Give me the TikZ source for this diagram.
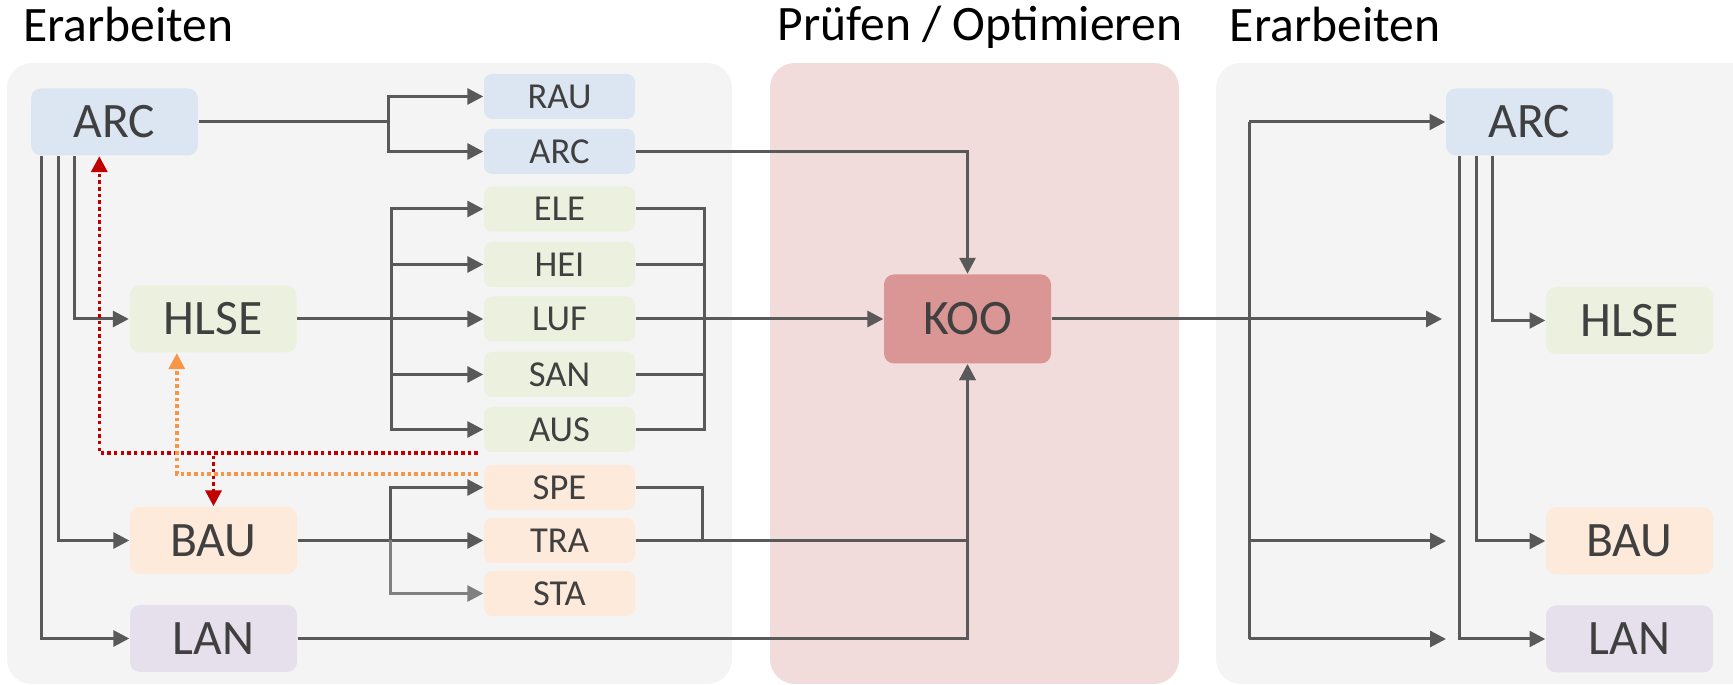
\documentclass[tikz,border=0pt]{standalone}
\usepackage{fontspec}
\setmainfont{Carlito}
\usetikzlibrary{arrows.meta}

\definecolor{panelgray}{HTML}{F4F4F4}
\definecolor{pinkpanel}{HTML}{F2DCDB}
\definecolor{koored}{HTML}{D99694}
\definecolor{arcblue}{HTML}{DCE6F2}
\definecolor{hlsegreen}{HTML}{EBF1DE}
\definecolor{bauorange}{HTML}{FDEADA}
\definecolor{lanviolet}{HTML}{E5E0EC}
\definecolor{linegray}{HTML}{595959}
\definecolor{stagray}{HTML}{808080}
\definecolor{textgray}{HTML}{404040}
\definecolor{dotred}{HTML}{C00000}
\definecolor{dotorange}{HTML}{F79646}

\begin{document}
\begin{tikzpicture}[
    title/.style={inner sep=0pt, anchor=base, font=\fontsize{14.1}{16}\selectfont},
    box/.style={rounded corners=0.1cm, minimum width=1.67cm, minimum height=0.67cm,
      inner sep=0pt, text=textgray, font=\fontsize{14.1}{16}\selectfont},
    sbox/.style={rounded corners=0.08cm, minimum width=1.51cm, minimum height=0.45cm,
      inner sep=0pt, text=textgray, font=\fontsize{10.4}{12}\selectfont},
    wire/.style={line width=0.85pt, draw=linegray},
    conn/.style={wire, -{Triangle[length=4.5pt, width=4.5pt]}},
    reddot/.style={line width=1pt, draw=dotred, dash pattern=on 1pt off 0.9pt,
      -{Triangle[length=4.5pt, width=4.5pt]}},
    orangedot/.style={line width=1pt, draw=dotorange, dash pattern=on 1pt off 0.9pt,
      -{Triangle[length=4.5pt, width=4.5pt]}}
  ]
  \useasboundingbox (0,0) rectangle (17.33,6.85);

  % panels
  \begin{scope}
    \clip (0,0) rectangle (17.33,6.85);
    \fill [panelgray, rounded corners=0.25cm] (0.07,0.01) rectangle (7.32,6.22);
    \fill [pinkpanel, rounded corners=0.25cm] (7.70,0.01) rectangle (11.79,6.22);
    \fill [panelgray, rounded corners=0.25cm] (12.16,0.01) rectangle (17.6,6.22);
  \end{scope}

  \node [title] (t1) at (1.285,6.43) {Erarbeiten};
  \node [title] (t2) at (9.80,6.44) {Prüfen / Optimieren};
  \node [title] (t3) at (13.35,6.43) {Erarbeiten};

  % left: main disciplines
  \node [box, fill=arcblue] (arcL) at (1.145,5.63) {ARC};
  \node [box, fill=hlsegreen] (hlseL) at (2.13,3.66) {HLSE};
  \node [box, fill=bauorange] (bauL) at (2.135,1.445) {BAU};
  \node [box, fill=lanviolet] (lanL) at (2.135,0.465) {LAN};

  % left: sub models
  \foreach \n/\t/\y/\c in {rau/RAU/5.885/arcblue, arcS/ARC/5.335/arcblue,
      ele/ELE/4.76/hlsegreen, hei/HEI/4.205/hlsegreen, luf/LUF/3.66/hlsegreen,
      san/SAN/3.105/hlsegreen, aus/AUS/2.555/hlsegreen,
      spe/SPE/1.975/bauorange, tra/TRA/1.445/bauorange, sta/STA/0.915/bauorange}
    \node [sbox, fill=\c] (\n) at (5.595,\y) {\t};

  % middle
  \node [box, fill=koored, minimum height=0.89cm] (koo) at (9.675,3.66) {KOO};

  % right
  \node [box, fill=arcblue] (arcR) at (15.295,5.63) {ARC};
  \node [box, fill=hlsegreen] (hlseR) at (16.295,3.645) {HLSE};
  \node [box, fill=bauorange] (bauR) at (16.295,1.44) {BAU};
  \node [box, fill=lanviolet] (lanR) at (16.295,0.46) {LAN};

  \coordinate (fa) at (3.88,5.63);
  \coordinate (fh) at (3.91,3.66);
  \coordinate (fb) at (3.90,1.445);
  \coordinate (mg) at (7.04,3.66);
  \coordinate (sm) at (7.02,1.445);
  \coordinate (bt) at (12.49,5.63);
  \coordinate (bb) at (12.49,0.46);
  \coordinate (eh) at (14.42,3.66);
  \coordinate (eb) at (14.46,1.44);
  \coordinate (el) at (14.46,0.46);
  \coordinate (rd) at (4.78,2.32);
  \coordinate (od) at (4.78,2.11);

  % ARC -> sub models and disciplines
  \draw [wire] (arcL.east) -- (fa);
  \draw [conn] (fa) |- (rau.west);
  \draw [conn] (fa) |- (arcS.west);
  \draw [conn] ([xshift=0.11cm]arcL.south west) |- (lanL.west);
  \draw [conn] ([xshift=0.28cm]arcL.south west) |- (bauL.west);
  \draw [conn] ([xshift=0.44cm]arcL.south west) |- (hlseL.west);

  % HLSE
  \draw [wire] (hlseL.east) -- (fh);
  \foreach \n in {ele,hei,luf,san,aus}
    \draw [conn] (fh) |- (\n.west);
  \foreach \n in {ele,hei,luf,san,aus}
    \draw [wire] (\n.east) -| (mg);

  % BAU
  \draw [conn] (bauL.east) -- (tra.west);
  \draw [conn] (fb) |- (spe.west);
  \draw [conn, draw=stagray] (fb) |- (sta.west);

  % into KOO
  \draw [conn] (arcS.east) -| (koo.north);
  \draw [conn] (mg) -- (koo.west);
  \draw [wire] (spe.east) -| (sm);
  \draw [conn] (tra.east) -| (koo.south);
  \draw [conn] (lanL.east) -| (koo.south);

  % KOO -> right
  \draw [conn] (koo.east) -- (eh);
  \draw [wire] (bt) -- (bb);
  \draw [conn] (bt) -- (arcR.west);
  \draw [conn] (bt |- eb) -- (eb);
  \draw [conn] (bb) -- (el);
  \draw [conn] ([xshift=0.14cm]arcR.south west) |- (lanR.west);
  \draw [conn] ([xshift=0.31cm]arcR.south west) |- (bauR.west);
  \draw [conn] ([xshift=0.47cm]arcR.south west) |- (hlseR.west);

  % feedback
  \draw [reddot] (rd) -| ([xshift=0.69cm]arcL.south west);
  \draw [reddot] (rd) -| (bauL.north);
  \draw [orangedot] (od) -| ([xshift=0.48cm]hlseL.south west);
\end{tikzpicture}
\end{document}
